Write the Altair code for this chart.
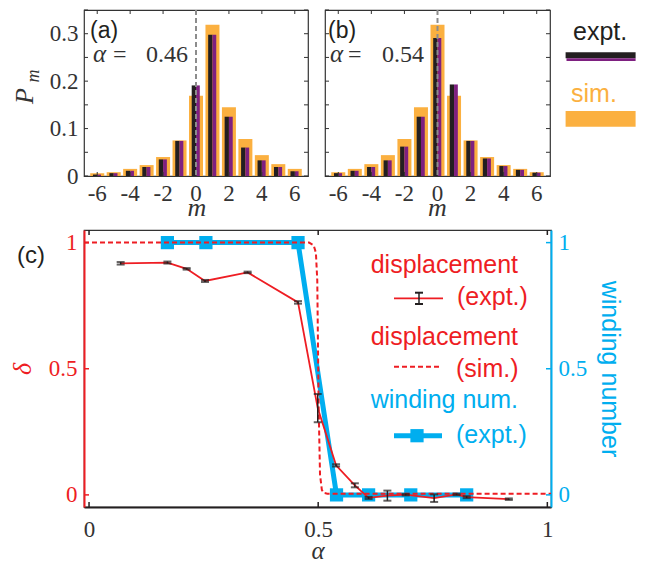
import altair as alt
import pandas as pd

# ---------------- data ----------------
m_vals = [-6, -5, -4, -3, -2, -1, 0, 1, 2, 3, 4, 5, 6]
sim_a = [0.006, 0.008, 0.015, 0.023, 0.040, 0.075, 0.169, 0.319, 0.145, 0.078, 0.044, 0.025, 0.015]
expt_a = [0.003, 0.006, 0.011, 0.019, 0.035, 0.074, 0.191, 0.298, 0.125, 0.060, 0.033, 0.019, 0.010]
sim_b = [0.008, 0.015, 0.025, 0.044, 0.078, 0.145, 0.319, 0.169, 0.075, 0.040, 0.023, 0.015, 0.008]
expt_b = [0.006, 0.011, 0.019, 0.033, 0.062, 0.125, 0.291, 0.193, 0.074, 0.037, 0.021, 0.013, 0.007]

m_ticks = [-6, -4, -2, 0, 2, 4, 6]
m_tick_labels = ["-6", "-4", "-2", "0", "2", "4", "6"]
p_ticks = [0, 0.05, 0.1, 0.15, 0.2, 0.25, 0.3, 0.35]
p_labels = [0, 0.1, 0.2, 0.3]
m_zero = [0]

alpha_expt = [0.069, 0.171, 0.213, 0.253, 0.346, 0.456, 0.499, 0.539, 0.58, 0.61,
              0.651, 0.691, 0.753, 0.802, 0.824, 0.916]
delta_expt = [0.918, 0.921, 0.896, 0.848, 0.882, 0.763, 0.344, 0.117, 0.038, -0.012,
              -0.003, 0.001, -0.013, 0.002, -0.009, -0.017]
delta_err = [0.005, 0.004, 0.003, 0.004, 0.003, 0.005, 0.056, 0.004, 0.008, 0.004,
             0.02, 0.003, 0.015, 0.003, 0.004, 0.003]

alpha_sim = [-0.011, 0.48, 0.49, 0.495, 0.498, 0.501, 0.504, 0.508, 0.512, 0.52, 1.008]
delta_sim = [1.0, 1.0, 0.99, 0.96, 0.85, 0.35, 0.08, 0.02, 0.008, 0.005, 0.005]

alpha_wind = [0.171, 0.255, 0.456, 0.54, 0.61, 0.702, 0.824]
winding = [1, 1, 1, 0, 0, 0, 0]

c_ticks = [0, 0.5, 1]

# ---------------- style ----------------
BLACK = "#231F20"
PURPLE = "#7E2080"
ORANGE = "#FBB040"
RED = "#EE1D23"
BLUE = "#00AEEF"
GRAY = "#8C8C8C"
AXC = "#333333"
SERIF = "Liberation Serif"
SANS = "Liberation Sans"

WA, HA = 224, 166
WC, HC = 467, 277

one = pd.DataFrame({"k": [0]})


def txt(s, x, y, size=24, font=SANS, color=BLACK, style="normal", angle=0, align="left"):
    return alt.Chart(one).mark_text(
        text=s, font=font, fontSize=size, color=color, fontStyle=style,
        angle=angle, align=align, baseline="alphabetic"
    ).encode(x=alt.value(x), y=alt.value(y))


def hist_panel(sim, expt, W, show_y, label, aval, aoff, extra=()):
    df = pd.DataFrame({"m": m_vals, "sim": sim, "expt": expt})
    xs = alt.Scale(domain=[-6.5, 6.5], nice=False, zero=False)
    ys = alt.Scale(domain=[0, 0.35], nice=False)

    def X(f):
        return alt.X(f, scale=xs, axis=None)

    def Y(f, first=False):
        if not show_y:
            return alt.Y(f, scale=ys, axis=None)
        if first:
            return alt.Y(f, scale=ys, axis=alt.Axis(
                values=p_labels, format=".1~f", title=None, labelFont=SERIF,
                labelFontSize=23, labelColor=AXC, labelPadding=6, labelOverlap=False,
                labelFlush=False, ticks=False, domain=False, grid=False))
        return alt.Y(f, scale=ys)

    sim_l = alt.Chart(df).mark_bar(color=ORANGE, size=14).encode(
        x=X("m:Q"), y=Y("sim:Q", True))
    blk = alt.Chart(df).mark_bar(color=BLACK, size=4.3, xOffset=-2.15).encode(
        x=X("m:Q"), y=Y("expt:Q"))
    pur = alt.Chart(df).mark_bar(color=PURPLE, size=3.8, xOffset=1.9).encode(
        x=X("m:Q"), y=Y("expt:Q"))
    zdf = pd.DataFrame({"m": m_zero})
    zero_line = alt.Chart(zdf).mark_rule(color=GRAY, strokeDash=[5, 3], strokeWidth=2).encode(
        x=X("m:Q"))
    ydf = pd.DataFrame({"p": p_ticks})
    xdf = pd.DataFrame({"m": m_ticks, "lab": m_tick_labels})
    lt = alt.Chart(ydf).mark_rule(color=AXC, strokeWidth=1).encode(
        y=Y("p:Q"), x=alt.value(0), x2=alt.value(4))
    rt = alt.Chart(ydf).mark_rule(color=AXC, strokeWidth=1).encode(
        y=Y("p:Q"), x=alt.value(W - 4), x2=alt.value(W))
    tt = alt.Chart(xdf).mark_rule(color=AXC, strokeWidth=1).encode(
        x=X("m:Q"), y=alt.value(0), y2=alt.value(4))
    bt = alt.Chart(xdf).mark_rule(color=AXC, strokeWidth=1).encode(
        x=X("m:Q"), y=alt.value(HA - 4), y2=alt.value(HA))
    xlab = alt.Chart(xdf).mark_text(font=SERIF, fontSize=23, color=AXC, baseline="alphabetic",
                                    align="center").encode(
        x=X("m:Q"), y=alt.value(HA + 25), text="lab:N")
    xtitle = txt("m", W / 2 + (1 if show_y else 0), HA + 40, size=26, font=SERIF, color=AXC,
                 style="italic", align="center")
    texts = [
        txt(label, aoff[0], 28, size=23, color=BLACK),
        txt("α", aoff[1], 52, size=25, font=SERIF, color=AXC, style="italic"),
        txt("=", aoff[2], 52, size=24, font=SERIF, color=AXC),
        txt(aval, aoff[3], 52, size=24, font=SERIF, color=AXC),
    ]
    return alt.layer(sim_l, blk, pur, lt, rt, tt, bt, zero_line, xlab, xtitle,
                     *texts, *extra).properties(width=W, height=HA)


# P_m label for panel (a)
pm = [
    txt("P", -51, 86, size=26, font=SERIF, color=AXC, style="italic", angle=270, align="center"),
    txt("m", -45, 66, size=18, font=SERIF, color=AXC, style="italic", angle=270, align="center"),
]
panel_a = hist_panel(sim_a, expt_a, WA, True, "(a)", "0.46", (6, 9, 29, 62), extra=pm)

legend_top = [
    txt("expt.", 248, 30, size=25, color=BLACK),
    alt.Chart(one).mark_rect(color=BLACK).encode(
        x=alt.value(240.6), x2=alt.value(310.6), y=alt.value(42.3), y2=alt.value(48.3)),
    alt.Chart(one).mark_rect(color=PURPLE).encode(
        x=alt.value(241.5), x2=alt.value(310.6), y=alt.value(48.3), y2=alt.value(51)),
    txt("sim.", 246, 92, size=25, color=ORANGE),
    alt.Chart(one).mark_rect(color=ORANGE).encode(
        x=alt.value(240.6), x2=alt.value(310.6), y=alt.value(101), y2=alt.value(116.7)),
]
panel_b = hist_panel(sim_b, expt_b, 225, False, "(b)", "0.54", (3, 5, 23, 57), extra=legend_top)

top = alt.hconcat(panel_a, panel_b, spacing=17, bounds="flush")

# ---------------- panel (c) ----------------
xs_c = alt.Scale(domain=[-0.011, 1.008], nice=False, zero=False)
ys_c = alt.Scale(domain=[-0.048, 1.05], nice=False, zero=False)

df_e = pd.DataFrame({"alpha": alpha_expt, "delta": delta_expt, "err": delta_err})
df_s = pd.DataFrame({"alpha": alpha_sim, "delta": delta_sim})
df_w = pd.DataFrame({"alpha": alpha_wind, "w": winding})

x_axis_c = alt.Axis(values=c_ticks, format=".1~f", title="α", titleFont=SERIF,
                    titleFontStyle="italic", titleFontSize=25, titleFontWeight="normal",
                    titleColor=AXC, titlePadding=-3, labelFont=SERIF, labelFontSize=23,
                    labelColor=AXC, labelPadding=11, labelOverlap=False, labelFlush=False,
                    ticks=False, domainColor=BLACK, domainWidth=2.2, grid=False,
                    orient="bottom")
left_axis = alt.Axis(values=c_ticks, format=".1~f", orient="left", title="δ",
                     titleFont=SERIF, titleFontStyle="italic", titleFontSize=26,
                     titleFontWeight="normal", titleColor=RED, titlePadding=13,
                     labelFont=SERIF, labelFontSize=23, labelColor=RED, labelPadding=7,
                     labelOverlap=False, labelFlush=False,
                     ticks=False, domainColor=RED, domainWidth=2, grid=False)
right_axis = alt.Axis(values=c_ticks, format=".1~f", orient="right", title="winding number",
                      titleFont=SANS, titleFontSize=25, titleFontWeight="normal",
                      titleColor=BLUE, titlePadding=10, labelFont=SERIF, labelFontSize=23,
                      labelColor=BLUE, labelPadding=7, labelOverlap=False, labelFlush=False,
                      ticks=False, domainColor=BLUE, domainWidth=2, grid=False)


def XC(f, first=False):
    return alt.X(f, scale=xs_c, axis=x_axis_c) if first else alt.X(f, scale=xs_c)


def YC(f, axis=None):
    return alt.Y(f, scale=ys_c, axis=axis)


wline = alt.Chart(df_w).mark_line(color=BLUE, strokeWidth=5).encode(
    x=XC("alpha:Q", True), y=YC("w:Q", right_axis))
wsq = alt.Chart(df_w).mark_square(color=BLUE, size=175, opacity=1).encode(
    x=XC("alpha:Q"), y=YC("w:Q"))
sim_line = alt.Chart(df_s).mark_line(color=RED, strokeDash=[5, 3], strokeWidth=2, clip=True).encode(
    x=XC("alpha:Q"), y=YC("delta:Q", left_axis))
exp_line = alt.Chart(df_e).mark_line(color=RED, strokeWidth=1.8).encode(
    x=XC("alpha:Q"), y=YC("delta:Q"))
err_base = alt.Chart(df_e).transform_calculate(
    lo="datum.delta - datum.err", hi="datum.delta + datum.err")
err_bar = err_base.mark_rule(color=BLACK, strokeWidth=1.5).encode(
    x=XC("alpha:Q"), y=YC("lo:Q"), y2="hi:Q")
cap_lo = err_base.mark_tick(color=BLACK, orient="horizontal", size=8, thickness=2).encode(
    x=XC("alpha:Q"), y=YC("lo:Q"))
cap_hi = err_base.mark_tick(color=BLACK, orient="horizontal", size=8, thickness=2).encode(
    x=XC("alpha:Q"), y=YC("hi:Q"))

cdf = pd.DataFrame({"v": c_ticks})
c_lt = alt.Chart(cdf).mark_rule(color=RED, strokeWidth=1.5).encode(
    y=YC("v:Q"), x=alt.value(0), x2=alt.value(5))
c_rt = alt.Chart(cdf).mark_rule(color=BLUE, strokeWidth=1.5).encode(
    y=YC("v:Q"), x=alt.value(WC - 5), x2=alt.value(WC))
c_tt = alt.Chart(cdf).mark_rule(color=BLACK, strokeWidth=1.5).encode(
    x=XC("v:Q"), y=alt.value(0), y2=alt.value(5))
c_bt = alt.Chart(cdf).mark_rule(color=BLACK, strokeWidth=1.5).encode(
    x=XC("v:Q"), y=alt.value(HC - 5), y2=alt.value(HC))

leg_c = [
    txt("(c)", -67, 33, size=24, color=BLACK),
    txt("displacement", 286.7, 43.3, size=25, color=RED),
    txt("(expt.)", 373, 75, size=25, color=RED),
    alt.Chart(one).mark_rule(color=RED, strokeWidth=1.8).encode(
        x=alt.value(310), x2=alt.value(359), y=alt.value(68.3)),
    alt.Chart(one).mark_rule(color=BLACK, strokeWidth=1.5).encode(
        x=alt.value(335), y=alt.value(62.7), y2=alt.value(74)),
    alt.Chart(one).mark_rule(color=BLACK, strokeWidth=2).encode(
        x=alt.value(331), x2=alt.value(339), y=alt.value(62.7)),
    alt.Chart(one).mark_rule(color=BLACK, strokeWidth=2).encode(
        x=alt.value(331), x2=alt.value(339), y=alt.value(74)),
    txt("displacement", 286.7, 115, size=25, color=RED),
    txt("(sim.)", 372, 146.5, size=25, color=RED),
    alt.Chart(one).mark_rule(color=RED, strokeWidth=2, strokeDash=[5, 3]).encode(
        x=alt.value(310), x2=alt.value(358), y=alt.value(136.7)),
    txt("winding num.", 286.7, 178.3, size=25, color=BLUE),
    txt("(expt.)", 372, 212.7, size=25, color=BLUE),
    alt.Chart(one).mark_rule(color=BLUE, strokeWidth=5).encode(
        x=alt.value(310), x2=alt.value(358), y=alt.value(205.7)),
    alt.Chart(one).mark_square(color=BLUE, size=175, opacity=1).encode(
        x=alt.value(333), y=alt.value(205.7)),
]

panel_c = alt.layer(
    wline, wsq, sim_line, exp_line, err_bar, cap_lo, cap_hi,
    c_lt, c_rt, c_tt, c_bt, *leg_c
).resolve_axis(y="independent").properties(width=WC, height=HC)

chart = alt.vconcat(top, panel_c, spacing=6).properties(
    padding={"left": 0, "top": 0, "right": 5, "bottom": 5}
).configure_view(stroke=AXC, strokeWidth=1.2).configure_axis(grid=False)

chart.save("out.html", embed_options={"renderer": "svg", "actions": False})
